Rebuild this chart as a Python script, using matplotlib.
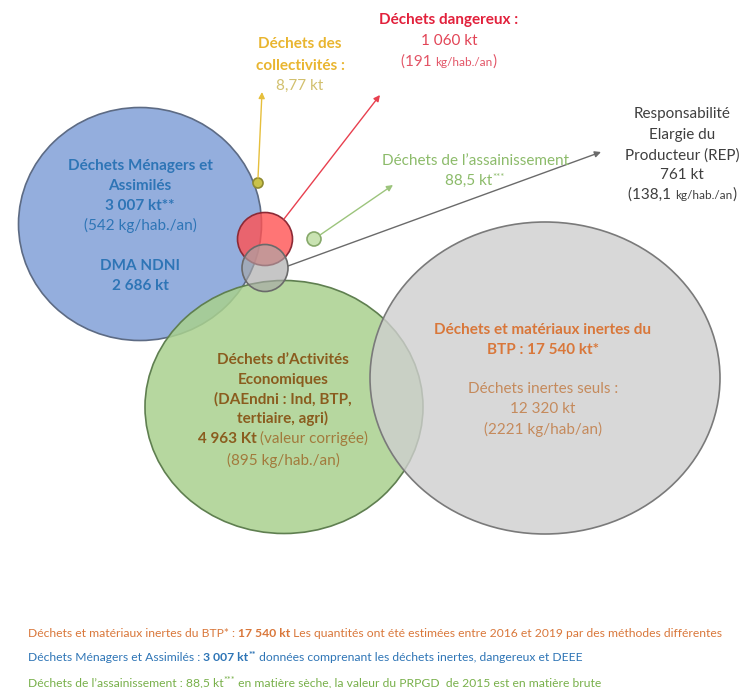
import matplotlib.pyplot as plt
from matplotlib.patches import Ellipse

plt.rcParams['font.family'] = ['Lato', 'DejaVu Sans']

# values shown on the chart (kt)
dma_kt = "3 007"
dma_ndni_kt = "2 686"
dma_ratio = "542"
dd_kt = "1 060"
dd_ratio = "191"
collect_kt = "8,77"
assain_kt = "88,5"
rep_kt = "761"
rep_ratio = "138,1"
dae_kt = "4 963"
dae_ratio = "895"
btp_kt = "17 540"
inertes_kt = "12 320"
inertes_ratio = "2221"

# bubble layout: centre x, centre y, width, height (pixels), face, edge
bub_x = [140, 284, 545, 265, 265, 258, 314]
bub_y = [224, 407, 378, 239, 268, 183, 239]
bub_w = [243, 278, 350, 55, 46, 10, 14]
bub_h = [233, 253, 312, 53, 47, 10, 14]
bub_face = ['#8eaadc', '#a9d18e', '#cfcfcf', '#ff5252', '#a8a8a8', '#c9c24a', '#c9e3b2']
bub_edge = ['#5d6b84', '#5f7f50', '#7a7a7a', '#8c2a36', '#6a6a6a', '#8f8a30', '#86a86a']
bub_alpha = [0.95, 0.85, 0.8, 0.8, 0.65, 1.0, 1.0]

fig = plt.figure(figsize=(7.44, 6.88), dpi=100)
ax = fig.add_axes([0, 0, 1, 1])
ax.set_xlim(0, 744)
ax.set_ylim(688, 0)
ax.axis('off')

for i in range(len(bub_x)):
    e = Ellipse((bub_x[i], bub_y[i]), bub_w[i], bub_h[i], facecolor=bub_face[i],
                edgecolor='none', alpha=bub_alpha[i], zorder=2 + i)
    ax.add_patch(e)
    ax.add_patch(Ellipse((bub_x[i], bub_y[i]), bub_w[i], bub_h[i], facecolor='none',
                         edgecolor=bub_edge[i], lw=1.2, zorder=2 + i))

# arrows from small bubbles to their labels
arrows = [((258, 178), (262, 92), '#e6bf3c'),
          ((284, 219), (380, 95), '#e8404f'),
          ((320, 235), (393, 185), '#9cc47c'),
          ((288, 266), (601, 152), '#6a6a6a')]
for (x0, y0), (x1, y1), c in arrows:
    ax.annotate('', xy=(x1, y1), xytext=(x0, y0),
                arrowprops=dict(arrowstyle='-|>', color=c, lw=1.0,
                                mutation_scale=9, shrinkA=0, shrinkB=0), zorder=10)

fig.canvas.draw()
renderer = fig.canvas.get_renderer()


def rich(x, y, parts, ha='center', size=11):
    """draw a line made of several styled pieces, y is baseline"""
    objs = []
    total = 0
    for p in parts:
        s = p[0]
        kw = dict(p[1]) if len(p) > 1 else {}
        dy = kw.pop('dy', 0)
        kw.setdefault('fontsize', size)
        t = ax.text(0, y + dy, s, va='baseline', ha='left', zorder=20, **kw)
        w = t.get_window_extent(renderer).width
        objs.append((t, w))
        total += w
    x0 = x - total / 2 if ha == 'center' else x
    for t, w in objs:
        t.set_x(x0)
        x0 += w


B = dict(fontweight='bold')

# DMA (blue)
blue = '#2e75b6'
rich(140, 170, [("Déchets Ménagers et", dict(color=blue, **B))])
rich(140, 190, [("Assimilés", dict(color=blue, **B))])
rich(140, 210, [(dma_kt + " kt**", dict(color=blue, **B))])
rich(140, 230, [("(" + dma_ratio + " kg/hab./an)", dict(color=blue))])
rich(140, 270, [("DMA NDNI", dict(color=blue, **B))])
rich(140, 290, [(dma_ndni_kt + " kt", dict(color=blue, **B))])

# collectivites (gold)
gold = '#e9b52f'
rich(300, 48, [("Déchets des", dict(color=gold, **B))])
rich(300, 70, [("collectivités :", dict(color=gold, **B))])
rich(300, 90, [(collect_kt + " kt", dict(color='#d2c06e'))])

# dangereux (red)
red = '#e2213c'
rich(449, 24, [("Déchets dangereux :", dict(color=red, **B))])
rich(449, 45, [(dd_kt + " kt", dict(color='#e24456'))])
rich(449, 66, [("(" + dd_ratio + " ", dict(color='#e35567')),
               ("kg/hab./an", dict(color='#e35567', fontsize=8.5)),
               (")", dict(color='#e35567'))])

# assainissement (green)
lg = '#8cbb6a'
rich(475, 165, [("Déchets de l’assainissement", dict(color=lg))])
rich(475, 185, [(assain_kt + " kt", dict(color=lg)),
                ("***", dict(color=lg, fontsize=7, dy=-5))])

# REP (dark grey)
dk = '#3f3f3f'
rich(682, 118, [("Responsabilité", dict(color=dk))])
rich(682, 139, [("Elargie du", dict(color=dk))])
rich(682, 160, [("Producteur (REP)", dict(color=dk))])
rich(682, 179, [(rep_kt + " kt", dict(color=dk))])
rich(682, 199, [("(" + rep_ratio + " ", dict(color=dk)),
                ("kg/hab./an", dict(color=dk, fontsize=8.5)),
                (")", dict(color=dk))])

# DAE (brown)
br = '#8a5c1e'
brl = '#a27a3c'
rich(283, 364, [("Déchets d’Activités", dict(color=br, **B))])
rich(283, 384, [("Economiques", dict(color=br, **B))])
rich(283, 404, [("(DAEndni : Ind, BTP,", dict(color=br, **B))])
rich(283, 423, [("tertiaire, agri)", dict(color=br, **B))])
rich(283, 443, [(dae_kt + " Kt ", dict(color=br, **B)),
                ("(valeur corrigée)", dict(color=brl))])
rich(283, 465, [("(" + dae_ratio + " kg/hab./an)", dict(color=brl))])

# BTP (orange)
og = '#d9773a'
ogl = '#c58a5c'
rich(543, 334, [("Déchets et matériaux inertes du", dict(color=og, **B))])
rich(543, 354, [("BTP : " + btp_kt + " kt*", dict(color=og, **B))])
rich(543, 393, [("Déchets inertes seuls :", dict(color=ogl))])
rich(543, 413, [(inertes_kt + " kt", dict(color=ogl))])
rich(543, 434, [("(" + inertes_ratio + " kg/hab/an)", dict(color=ogl))])

# footnotes
fs = 8.7
rich(28, 637, [("Déchets et matériaux inertes du BTP* : ", dict(color=og)),
               (btp_kt + " kt", dict(color=og, **B)),
               (" Les quantités ont été estimées entre 2016 et 2019 par des méthodes différentes",
                dict(color=og))], ha='left', size=fs)
rich(28, 661, [("Déchets Ménagers et Assimilés : ", dict(color=blue)),
               (dma_kt + " kt", dict(color=blue, **B)),
               ("**", dict(color=blue, fontsize=6.5, dy=-3, **B)),
               (" données comprenant les déchets inertes, dangereux et DEEE", dict(color=blue))],
     ha='left', size=fs)
rich(28, 686, [("Déchets de l’assainissement : " + assain_kt + " kt", dict(color='#78b04a')),
               ("***", dict(color='#78b04a', fontsize=6.5, dy=-3)),
               (" en matière sèche, la valeur du PRPGD  de 2015 est en matière brute",
                dict(color='#78b04a'))], ha='left', size=fs)

fig.savefig('out.png', dpi=100)
